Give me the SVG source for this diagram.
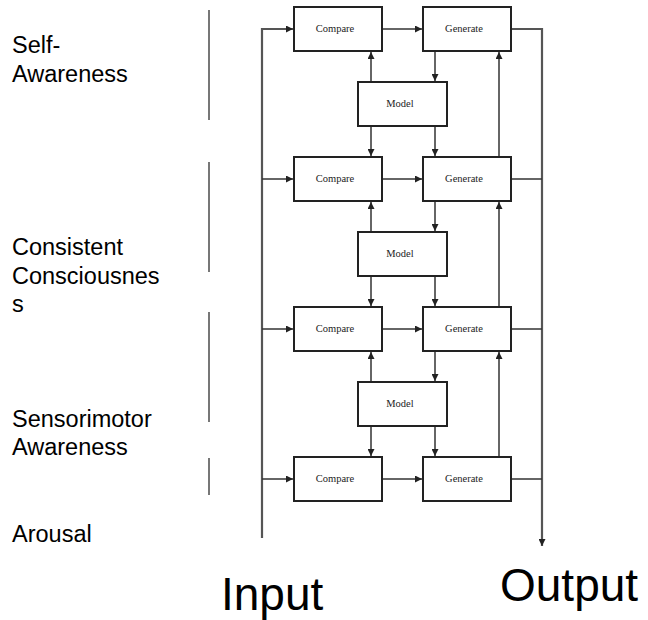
<svg xmlns="http://www.w3.org/2000/svg" width="648" height="620" viewBox="0 0 648 620">
<style>
.box{fill:#fff;stroke:#222;stroke-width:2}
.bt{font-family:"Liberation Serif",serif;font-size:10.5px;fill:#222;text-anchor:middle}
.c{fill:none;stroke:#333;stroke-width:1.5}
.bus{fill:none;stroke:#555;stroke-width:2.2}
.sep{stroke:#555;stroke-width:1.6}
.lbl{font-family:"Liberation Sans",Arial,sans-serif;font-size:23.5px;fill:#000}
.big{font-family:"Liberation Sans",Arial,sans-serif;font-size:46px;fill:#000}
</style>
<defs>
<marker id="ah" viewBox="0 0 8 8" refX="8" refY="4" markerWidth="7" markerHeight="7" markerUnits="userSpaceOnUse" orient="auto">
<path d="M0,0 L8,4 L0,8 z" fill="#222"/>
</marker>
</defs>
<rect width="648" height="620" fill="#fff"/>
<g id="separators">
<line class="sep" x1="209" y1="10" x2="209" y2="120"/>
<line class="sep" x1="209" y1="162" x2="209" y2="272"/>
<line class="sep" x1="209" y1="312" x2="209" y2="422"/>
<line class="sep" x1="209" y1="458" x2="209" y2="495"/>
</g>
<g id="labels">
<text class="lbl" x="12"><tspan x="12" y="53">Self-</tspan><tspan x="12" y="82">Awareness</tspan></text>
<text class="lbl" x="12"><tspan x="12" y="255">Consistent</tspan><tspan x="12" y="283.5">Consciousnes</tspan><tspan x="12" y="312">s</tspan></text>
<text class="lbl" x="12"><tspan x="12" y="427">Sensorimotor</tspan><tspan x="12" y="455">Awareness</tspan></text>
<text class="lbl" x="12" y="542">Arousal</text>
<text class="big" x="221" y="610">Input</text>
<text class="big" x="500" y="601">Output</text>
</g>
<g id="connectors">
<path class="bus" d="M262,538 V29 H293" marker-end="url(#ah)"/>
<path class="c" d="M262,179 H293" marker-end="url(#ah)"/>
<path class="c" d="M262,329 H293" marker-end="url(#ah)"/>
<path class="c" d="M262,479 H293" marker-end="url(#ah)"/>
<path class="c" d="M382,29 H422" marker-end="url(#ah)"/>
<path class="c" d="M382,179 H422" marker-end="url(#ah)"/>
<path class="c" d="M382,329 H422" marker-end="url(#ah)"/>
<path class="c" d="M382,479 H422" marker-end="url(#ah)"/>
<path class="bus" d="M511,29 H542 V546" marker-end="url(#ah)"/>
<path class="c" d="M511,179 H542"/>
<path class="c" d="M511,329 H542"/>
<path class="c" d="M511,479 H542"/>
<path class="c" d="M371,82 V52" marker-end="url(#ah)"/>
<path class="c" d="M435,51 V81" marker-end="url(#ah)"/>
<path class="c" d="M371,126 V156" marker-end="url(#ah)"/>
<path class="c" d="M435,126 V156" marker-end="url(#ah)"/>
<path class="c" d="M499,157 V52" marker-end="url(#ah)"/>
<path class="c" d="M371,232 V202" marker-end="url(#ah)"/>
<path class="c" d="M435,201 V231" marker-end="url(#ah)"/>
<path class="c" d="M371,276 V306" marker-end="url(#ah)"/>
<path class="c" d="M435,276 V306" marker-end="url(#ah)"/>
<path class="c" d="M499,307 V202" marker-end="url(#ah)"/>
<path class="c" d="M371,382 V352" marker-end="url(#ah)"/>
<path class="c" d="M435,351 V381" marker-end="url(#ah)"/>
<path class="c" d="M371,426 V456" marker-end="url(#ah)"/>
<path class="c" d="M435,426 V456" marker-end="url(#ah)"/>
<path class="c" d="M499,457 V352" marker-end="url(#ah)"/>
</g>
<g id="compare1"><rect class="box" x="294" y="7" width="88" height="44"/><text class="bt" x="335" y="32">Compare</text></g>
<g id="generate1"><rect class="box" x="423" y="7" width="88" height="44"/><text class="bt" x="464" y="32">Generate</text></g>
<g id="model1"><rect class="box" x="358" y="82" width="89" height="44"/><text class="bt" x="400" y="107">Model</text></g>
<g id="compare2"><rect class="box" x="294" y="157" width="88" height="44"/><text class="bt" x="335" y="182">Compare</text></g>
<g id="generate2"><rect class="box" x="423" y="157" width="88" height="44"/><text class="bt" x="464" y="182">Generate</text></g>
<g id="model2"><rect class="box" x="358" y="232" width="89" height="44"/><text class="bt" x="400" y="257">Model</text></g>
<g id="compare3"><rect class="box" x="294" y="307" width="88" height="44"/><text class="bt" x="335" y="332">Compare</text></g>
<g id="generate3"><rect class="box" x="423" y="307" width="88" height="44"/><text class="bt" x="464" y="332">Generate</text></g>
<g id="model3"><rect class="box" x="358" y="382" width="89" height="44"/><text class="bt" x="400" y="407">Model</text></g>
<g id="compare4"><rect class="box" x="294" y="457" width="88" height="44"/><text class="bt" x="335" y="482">Compare</text></g>
<g id="generate4"><rect class="box" x="423" y="457" width="88" height="44"/><text class="bt" x="464" y="482">Generate</text></g>
</svg>
